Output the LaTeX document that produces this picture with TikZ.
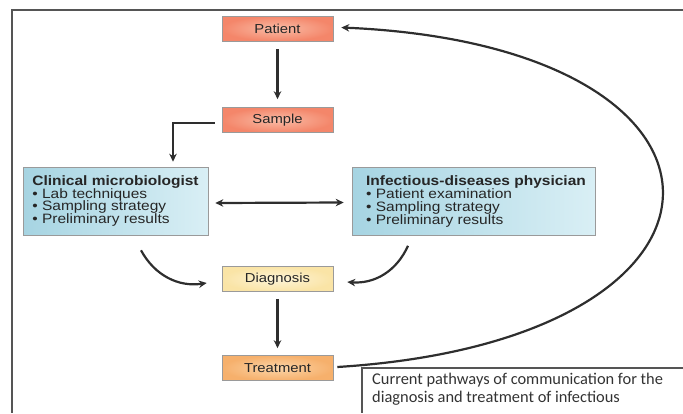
\documentclass[tikz,border=0pt]{standalone}
\usepackage{fontspec}
\setmainfont{Liberation Sans}
\newfontfamily\boxfont[FakeStretch=1.14]{Liberation Sans}
\newfontfamily\notefont{Carlito}
\usetikzlibrary{positioning,arrows.meta}
\definecolor{framegray}{HTML}{555555}
\definecolor{boxgray}{HTML}{9A9A9A}
\definecolor{linkgray}{HTML}{2E2E2E}
\definecolor{boxtext}{HTML}{262626}
\definecolor{salmonout}{HTML}{F4866A}
\definecolor{salmonin}{HTML}{F9BCA6}
\definecolor{sandout}{HTML}{FAE4A6}
\definecolor{sandin}{HTML}{FDF4D8}
\definecolor{apricotout}{HTML}{F6B06C}
\definecolor{apricotin}{HTML}{FBD5A8}
\definecolor{roleblue}{HTML}{A6D4E2}
\definecolor{rolepale}{HTML}{D9EFF5}
\begin{document}
\begin{tikzpicture}[x=1pt,y=-1pt,>={Stealth[length=8pt,width=7.5pt]},
    stepbox/.style={draw=boxgray,line width=.6pt,minimum width=111pt,minimum height=25pt,
      inner sep=0pt,text=boxtext,font=\boxfont\fontsize{13}{13}\selectfont},
    rolebox/.style={draw=boxgray,line width=.6pt,minimum height=68pt,inner sep=0pt,
      align=left,left color=roleblue,right color=rolepale,text=boxtext,
      font=\boxfont\fontsize{13.6}{12.8}\selectfont},
    link/.style={->,draw=linkgray,line width=2.2pt}]
  \useasboundingbox (0,0) rectangle (683,413);
  % frame
  \draw[framegray,line width=1.4pt] (683,10) -- (12,10) -- (12,413);
  \node[stepbox,inner color=salmonin,outer color=salmonout] (patient) at (277.5,28.5) {Patient};
  \node[stepbox,inner color=salmonin,outer color=salmonout] (sample) at (277.5,120) {Sample};
  \node[rolebox,minimum width=185pt] (clinical) at (115.5,201) {\textbf{Clinical microbiologist}\\
    \textbullet\ Lab techniques\\ \textbullet\ Sampling strategy\\ \textbullet\ Preliminary results};
  \node[rolebox,minimum width=243pt] (infectious) at (473.5,201.5) {\hspace*{5pt}\textbf{Infectious-diseases physician}\\
    \hspace*{5pt}\textbullet\ Patient examination\\ \hspace*{5pt}\textbullet\ Sampling strategy\\ \hspace*{5pt}\textbullet\ Preliminary results};
  \node[stepbox,inner color=sandin,outer color=sandout] (diagnosis) at (277.5,279) {Diagnosis};
  \node[stepbox,inner color=apricotin,outer color=apricotout] (treatment) at (277.5,368) {Treatment};
  % connectors
  \draw[link] ([yshift=-8pt]patient.south) -- ([yshift=8pt]sample.north);
  \draw[link] ([xshift=-7pt,yshift=-3pt]sample.west) -| ([xshift=57.5pt,yshift=5pt]clinical.north);
  \draw[link,<->] ([xshift=7pt,yshift=-2pt]clinical.east) -- ([xshift=-8pt,yshift=-1pt]infectious.west);
  \draw[link] ([xshift=25.5pt,yshift=-15pt]clinical.south) to[bend right=35] ([xshift=-15pt,yshift=-4pt]diagnosis.west);
  \draw[link] ([xshift=-65.5pt,yshift=-10pt]infectious.south) to[bend left=35] ([xshift=14pt,yshift=-3pt]diagnosis.east);
  \draw[link] ([yshift=-7pt]diagnosis.south) -- ([yshift=7pt]treatment.north);
  \draw[link] ([xshift=4pt,yshift=1pt]treatment.east) .. controls (770,340) and (770,46) .. ([xshift=8pt,yshift=1pt]patient.east);
  % caption
  \draw[framegray,line width=1.2pt] (683,368) -- (362,368) -- (362,413);
  \node[anchor=north west,inner sep=0pt,align=left,font=\notefont\fontsize{16.4}{18}\selectfont,text=black!80]
    (caption) at (372,373) {Current pathways of communication for the\\ diagnosis and treatment of infectious};
\end{tikzpicture}
\end{document}
